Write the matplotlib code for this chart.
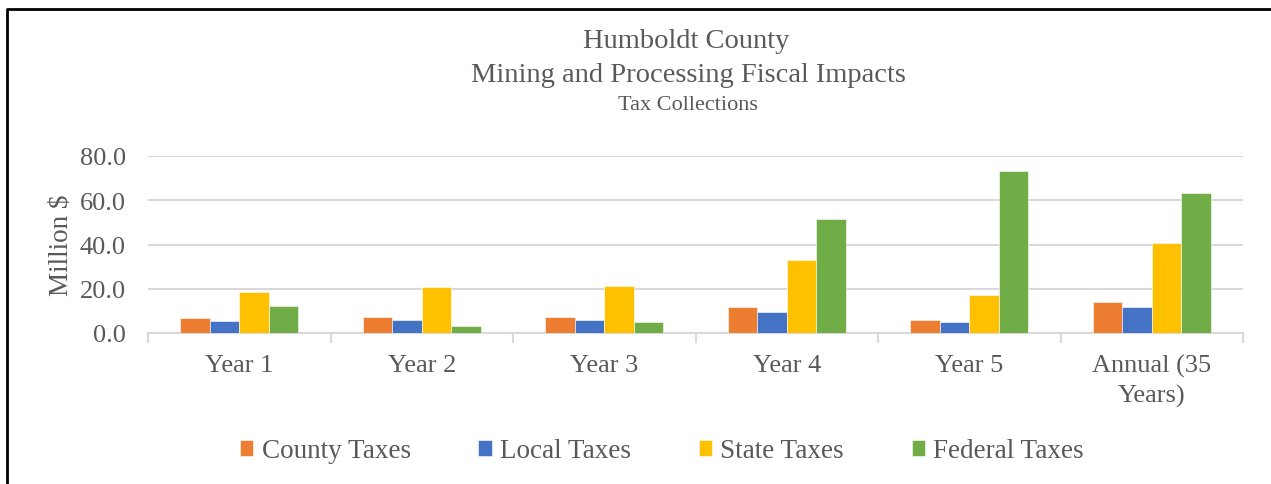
import numpy as np
import matplotlib
matplotlib.use('Agg')
import matplotlib.pyplot as plt
from matplotlib.lines import Line2D

plt.rcParams['font.family'] = ['Liberation Serif', 'DejaVu Serif']

categories = ['Year 1', 'Year 2', 'Year 3', 'Year 4', 'Year 5', 'Annual (35\nYears)']
county = [6.6, 7.1, 7.3, 11.7, 6.0, 14.1]
local = [5.3, 5.9, 5.9, 9.5, 5.0, 11.7]
state = [18.6, 20.8, 21.4, 33.2, 17.4, 40.5]
federal = [12.3, 3.0, 5.0, 51.5, 73.0, 63.3]
series_names = ['County Taxes', 'Local Taxes', 'State Taxes', 'Federal Taxes']
colors = ['#ED7D31', '#4472C4', '#FFC000', '#70AD47']

W, H = 1271, 485
fig = plt.figure(figsize=(W/100, H/100), dpi=100)
ax = fig.add_axes([148/W, 1-334/H, (1243-148)/W, (334-157)/H])

txt = '#595959'
x = np.arange(len(categories))
w = 0.161
for i, (vals, name, c) in enumerate(zip([county, local, state, federal], series_names, colors)):
    ax.bar(x + (i-1.5)*w, vals, w, color=c, label=name, edgecolor='white', linewidth=0.4, zorder=3)

ax.set_xlim(-0.5, len(categories)-0.5)
ax.set_ylim(0, 80)
ax.set_yticks([0, 20, 40, 60, 80])
ax.set_yticklabels(['%.1f' % v for v in [0, 20, 40, 60, 80]], fontsize=19, color=txt)
ax.set_xticks(x)
ax.set_xticklabels(categories, fontsize=19, color=txt, linespacing=1.4)
ax.set_xticks(np.arange(-0.5, len(categories)), minor=True)
ax.tick_params(axis='x', which='major', length=0, pad=15)
ax.tick_params(axis='x', which='minor', length=7, width=1.5, color='#d9d9d9')
ax.tick_params(axis='y', length=0, pad=16)
ax.grid(axis='y', color='#d9d9d9', linewidth=1.5, zorder=0)
for s in ['top', 'right', 'left']:
    ax.spines[s].set_visible(False)
ax.spines['bottom'].set_color('#d9d9d9')
ax.spines['bottom'].set_linewidth(1.5)
ax.set_ylabel('Million $', fontsize=19.5, color=txt, labelpad=4)

fig.text(686/W, 1-42/H, 'Humboldt County', ha='center', va='center', fontsize=20.5, color=txt)
fig.text(688/W, 1-75/H, 'Mining and Processing Fiscal Impacts', ha='center', va='center', fontsize=20.5, color=txt)
fig.text(688/W, 1-105/H, 'Tax Collections', ha='center', va='center', fontsize=16, color=txt)

leg = fig.legend(loc='center', bbox_to_anchor=(662/W, 1-452/H), ncol=4, frameon=False,
                 fontsize=19.5, handlelength=0.5, handleheight=0.5, handletextpad=0.3,
                 columnspacing=2.5)
for t in leg.get_texts():
    t.set_color(txt)

# frame around the chart (left and top edges)
fig.add_artist(Line2D([7/W, 7/W, 1.0], [0, 1-10/H, 1-10/H], color='black', linewidth=2, transform=fig.transFigure))

fig.savefig('out.png', dpi=100)
